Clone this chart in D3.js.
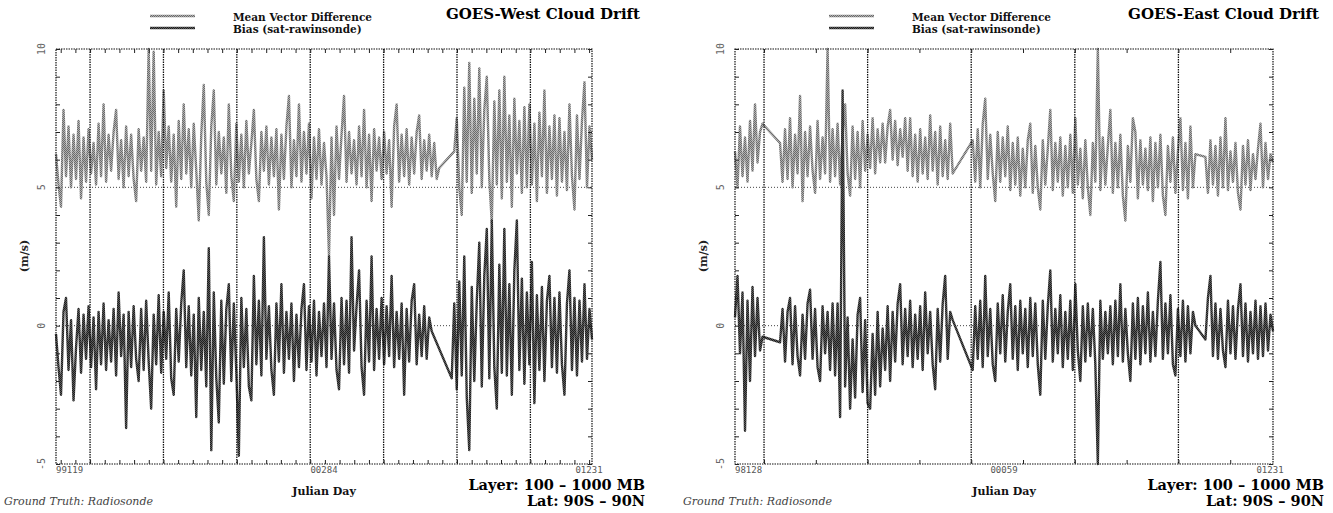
<!DOCTYPE html>
<html><head><meta charset="utf-8">
<script src="https://cdn.jsdelivr.net/npm/d3@7"></script>
<style>body{margin:0;background:#fff}svg{display:block}</style>
</head><body>
<svg id="c" width="1333" height="513"></svg>
<script>
// ---- data ----
const westMvd = [
 6.2,5.1,4.3,7.8,5.4,7.2,5.0,6.9,5.3,7.4,
 4.6,6.8,5.2,7.1,5.5,6.6,5.1,7.3,5.4,8.0,
 5.2,6.9,5.6,7.0,7.8,5.3,6.7,5.0,7.2,5.4,
 6.9,5.3,4.5,7.1,5.6,6.8,5.2,10.0,5.6,9.9,
 5.1,7.0,5.4,8.5,5.7,7.2,5.2,6.9,4.3,7.4,
 5.3,8.0,5.5,7.1,5.0,7.3,5.6,3.8,6.9,8.7,
 5.2,4.0,7.2,8.5,5.1,7.0,5.5,6.8,4.8,8.0,
 5.4,4.5,7.3,5.2,6.9,5.0,7.4,5.5,6.6,7.8,
 5.3,4.5,7.0,5.6,7.2,5.1,6.8,5.4,7.1,4.2,
 6.9,5.3,7.2,8.3,5.0,6.7,5.4,8.0,5.2,7.0,
 5.5,7.3,4.6,6.8,5.3,7.1,5.1,6.6,5.4,2.5,
 6.8,4.0,7.2,5.3,6.9,8.3,5.2,7.0,5.5,6.7,
 5.1,7.2,5.4,7.8,5.0,6.9,4.5,7.1,5.6,6.8,
 5.3,7.0,5.5,6.7,4.3,7.2,8.0,5.2,6.9,5.4,
 7.1,5.1,6.8,5.5,7.0,7.6,5.3,6.7,5.6,6.9,
 5.4,6.6,5.3,5.7,null,null,null,null,null,6.3,
 7.5,5.0,4.0,8.6,5.2,9.5,4.8,8.2,5.5,9.3,
 5.0,7.8,9.0,5.3,3.7,8.1,5.1,8.5,4.6,9.0,
 5.2,7.6,4.3,8.2,5.5,7.4,4.8,7.9,5.0,8.0,
 5.1,7.3,4.5,7.7,5.4,8.5,4.8,7.2,5.3,7.6,
 4.7,7.5,5.2,7.0,4.9,8.0,5.4,4.2,7.6,5.3,
 7.4,8.8,5.0,7.2,6.0
];
const westBias = [
 -0.3,-1.5,-2.5,0.5,1.0,-1.6,0.2,-2.7,-0.8,0.6,
 -1.7,0.4,-1.2,0.7,-1.5,0.3,-2.3,0.5,-1.4,0.8,
 -1.6,0.2,-1.3,0.6,-1.8,1.2,-1.1,0.4,-3.7,0.5,
 -1.5,0.7,-1.2,-2.0,0.6,-1.6,0.9,-1.3,-3.0,0.4,
 -1.4,1.1,-1.7,0.5,-1.2,1.2,-1.9,-2.5,0.6,-1.3,
 0.8,2.0,-1.5,0.7,-1.8,0.4,-3.3,1.0,-1.6,0.5,
 -2.2,2.8,-4.5,1.2,-1.9,-3.5,0.9,-2.1,0.6,1.5,
 -2.0,0.8,-1.7,-4.7,1.0,-1.5,0.6,-2.2,-2.7,1.8,
 -1.4,0.9,-1.8,3.2,-1.2,0.7,-1.6,-2.5,0.8,-1.3,
 1.5,-1.7,0.5,-1.2,0.8,-2.0,0.4,-1.5,0.6,1.5,
 -1.6,0.7,-1.3,0.9,-1.8,0.5,-1.1,0.8,-1.5,2.5,
 -1.2,0.8,-1.6,-2.3,1.0,-1.4,0.9,-1.7,3.2,-0.9,
 0.7,2.0,-1.5,-2.5,0.9,-1.3,2.5,-1.6,0.6,-1.2,
 1.0,-1.4,0.7,-1.1,1.8,-1.5,0.5,-1.2,0.8,-2.5,
 0.6,-1.3,0.9,1.5,-1.4,0.4,-1.1,0.7,-1.2,0.3,
 -0.2,null,null,null,null,null,null,null,-1.9,0.8,
 -2.3,1.6,-1.8,2.5,-2.6,-4.5,1.4,-2.0,0.9,3.0,
 -2.2,1.8,3.5,-1.9,3.8,-1.5,-3.0,2.2,-1.7,3.5,
 -1.8,1.5,-2.5,2.0,3.8,-1.6,1.7,-2.1,1.2,-1.4,
 2.3,-2.8,1.1,-1.6,1.4,-2.0,0.9,1.8,-1.5,1.0,
 -1.7,1.2,-1.4,-2.5,0.8,2.0,-1.6,1.0,-1.8,0.9,
 -1.3,1.5,-1.2,0.6,-0.5
];
const eastMvd = [
 6.3,5.0,7.2,5.4,6.8,5.2,7.4,5.6,8.0,5.9,
 7.0,7.3,null,null,null,null,null,null,6.6,5.2,
 7.1,5.3,7.5,5.0,6.9,5.5,8.3,4.5,7.0,5.4,
 7.2,5.6,4.8,7.4,5.3,6.8,5.5,10.0,5.2,7.1,
 5.4,7.3,5.1,6.9,8.0,5.5,4.7,7.2,5.3,7.0,
 5.0,7.4,5.6,6.9,5.7,7.5,5.5,7.1,5.9,7.3,
 5.9,7.2,7.8,6.0,7.4,5.8,7.1,6.1,7.5,5.6,
 7.5,5.4,6.9,5.2,7.1,5.5,6.8,5.3,7.6,5.6,
 7.0,5.1,7.2,5.4,6.7,5.3,7.3,5.5,null,null,
 null,null,null,null,null,6.7,5.2,7.1,5.0,7.3,
 8.2,5.3,6.9,5.5,4.5,7.0,5.2,6.8,5.4,7.2,
 4.9,6.6,5.1,6.8,4.7,6.4,5.0,6.7,7.3,4.8,
 6.5,5.0,4.2,6.7,5.1,6.4,7.8,4.9,6.6,5.2,
 6.8,4.7,6.5,5.0,6.9,4.8,7.5,5.1,6.4,4.6,
 6.7,5.0,4.0,6.6,5.2,10.0,4.9,6.8,5.1,6.5,
 7.8,4.8,6.6,5.0,6.9,4.7,3.8,6.5,5.2,7.5,
 7.0,4.6,6.7,5.1,6.4,4.9,6.8,4.5,6.6,5.0,
 6.9,4.7,4.0,6.5,5.2,6.8,4.8,6.3,7.5,4.9,
 6.6,4.6,7.2,5.0,6.2,null,null,null,6.1,4.8,
 6.7,5.1,6.5,4.7,6.8,5.0,7.5,4.9,6.3,5.2,
 6.6,4.8,4.2,6.5,5.1,6.7,4.9,6.2,5.3,6.4,
 7.3,5.0,6.6,5.3,6.2,5.9
];
const eastBias = [
 0.3,1.8,-1.0,1.2,-3.8,0.9,-2.0,1.4,-1.1,1.0,
 -0.9,-0.4,null,null,null,null,null,null,-0.6,0.6,
 -1.3,0.5,1.0,-1.4,0.7,-1.1,-1.8,0.4,-1.2,0.8,
 1.3,-1.2,0.6,-1.5,-2.0,0.7,-1.0,0.5,-1.6,0.8,
 -1.8,0.8,-3.3,8.5,-2.2,0.3,-3.0,-0.5,-2.6,0.4,
 1.0,-2.4,0.2,-2.8,-3.0,-0.3,-2.5,0.5,-2.2,-0.1,
 -1.6,0.7,-2.0,0.5,-1.3,0.8,1.5,-1.4,0.6,-1.1,
 0.9,-1.5,0.4,-1.2,0.7,-1.6,1.2,-1.0,0.5,-1.4,
 -2.3,0.6,-1.3,0.8,1.8,-1.2,0.5,0.2,null,null,
 null,null,null,null,null,-1.6,0.7,-1.2,0.9,-1.5,
 1.8,-1.1,0.6,-1.4,-2.0,0.8,-1.0,1.1,-1.3,0.5,
 1.5,-1.2,0.7,-1.6,0.9,-1.0,0.6,-1.5,1.0,-1.1,
 0.8,-1.4,-2.5,0.9,-1.2,0.7,2.0,-1.3,0.6,-1.0,
 1.1,-1.5,0.5,-1.2,0.9,-1.6,1.5,-0.9,-2.0,0.7,
 -1.3,0.8,-1.1,0.6,-1.4,-5.0,0.9,-1.2,0.5,-1.0,
 0.7,-1.4,0.9,-1.1,1.5,-1.3,0.6,-1.0,-2.0,0.8,
 -1.2,1.0,-1.4,0.7,-1.0,1.2,-1.3,0.5,-1.1,0.9,
 2.3,-1.2,0.8,-1.0,1.1,-1.4,-1.8,0.6,-1.1,0.9,
 -1.3,0.7,-1.0,0.5,0.0,null,null,null,-0.5,1.0,
 1.8,-1.1,0.8,-1.2,0.6,-0.9,-1.5,0.9,-1.0,0.7,
 -1.2,0.6,1.5,-1.1,0.8,-1.3,0.5,-1.0,0.9,-1.2,
 0.7,-1.1,0.8,-0.9,0.4,-0.2
];
const westDates = ["99119", "00284", "01231"];
const eastDates = ["98128", "00059", "01231"];
const westGrid = [13.6, 42.9, 72.2, 101.5, 130.8, 160.1, 189.4];
const eastGrid = [11.6, 53.0, 94.4, 135.8, 177.2];
const yTickLabels = [10, 5, 0, -5];
const refLevels = [5, 0];
const legendLabels = ["Mean Vector Difference", "Bias (sat-rawinsonde)"];
const titles = ["GOES-West Cloud Drift", "GOES-East Cloud Drift"];
const layerText = "Layer: 100 \u2013 1000 MB";
const latText = "Lat: 90S \u2013 90N";
const xTitle = "Julian Day";
const yTitle = "(m/s)";
const truthText = "Ground Truth: Radiosonde";

// ---- drawing ----
const svg = d3.select("#c");
svg.append("rect").attr("width",1333).attr("height",513).attr("fill","#fff");
const serif = "'DejaVu Serif', 'Liberation Serif', serif";

// halftone-like textures for the two series
const defs = svg.append("defs");
function checker(id, dark, light) {
  const p = defs.append("pattern").attr("id", id).attr("width", 2).attr("height", 2)
    .attr("patternUnits", "userSpaceOnUse");
  p.append("rect").attr("width", 2).attr("height", 2).attr("fill", light);
  p.append("rect").attr("width", 1).attr("height", 1).attr("fill", dark);
  p.append("rect").attr("x", 1).attr("y", 1).attr("width", 1).attr("height", 1).attr("fill", dark);
}
checker("texMvd", "#6a6a6a", "#b0b0b0");
checker("texBias", "#1e1e1e", "#5a5a5a");

const panels = [
  {title: titles[0], mvd: westMvd, bias: westBias, dates: westDates, grid: westGrid, minorDiv: 5, x0: 56, x1: 592, dx: 0},
  {title: titles[1], mvd: eastMvd, bias: eastBias, dates: eastDates, grid: eastGrid, minorDiv: 2, x0: 735, x1: 1273, dx: 679}
];

panels.forEach(p => {
  const g = svg.append("g");
  const N = p.mvd.length;
  const x = d3.scaleLinear().domain([0, N - 1]).range([p.x0, p.x1]);
  const y = d3.scaleLinear().domain([-5, 10]).range([464, 49]);

  // horizontal reference lines (under data)
  g.selectAll(".ref").data(refLevels).join("line")
    .attr("x1", p.x0).attr("x2", p.x1)
    .attr("y1", d => y(d)).attr("y2", d => y(d))
    .attr("stroke", "#444").attr("stroke-width", 1).attr("stroke-dasharray", "1,2");

  const line = d3.line().x(d => x(d.i)).y(d => y(d.v));
  const pts = arr => arr.map((v, i) => ({i, v})).filter(d => d.v !== null);

  g.append("path").datum(pts(p.mvd)).attr("d", line)
    .attr("fill", "none").attr("stroke", "url(#texMvd)").attr("stroke-width", 2.4).attr("stroke-linejoin", "round");
  g.append("path").datum(pts(p.bias)).attr("d", line)
    .attr("fill", "none").attr("stroke", "url(#texBias)").attr("stroke-width", 2.4).attr("stroke-linejoin", "round");

  // vertical grid lines
  g.selectAll(".grid").data(p.grid).join("line")
    .attr("x1", d => x(d)).attr("x2", d => x(d))
    .attr("y1", 49).attr("y2", 464)
    .attr("stroke", "#111").attr("stroke-width", 1.3).attr("stroke-dasharray", "1.5,1");

  // frame
  g.append("rect").attr("x", p.x0).attr("y", 49).attr("width", p.x1 - p.x0).attr("height", 415)
    .attr("fill", "none").attr("stroke", "#111").attr("stroke-width", 1.2).attr("stroke-dasharray", "1.5,1");

  // minor ticks via axes
  const step = p.grid[1] - p.grid[0];
  const minor = [];
  for (let t = p.grid[0] - step; t <= N - 1; t += step / p.minorDiv) if (t >= 0) minor.push(t);
  const axB = d3.axisBottom(x).tickValues(minor).tickSize(-4).tickFormat("");
  const axT = d3.axisTop(x).tickValues(minor).tickSize(-4).tickFormat("");
  const axL = d3.axisLeft(y).tickValues(d3.range(-5, 11)).tickSize(-4).tickFormat("");
  const axR = d3.axisRight(y).tickValues(d3.range(-5, 11)).tickSize(-4).tickFormat("");
  [[axB, `translate(0,464)`], [axT, `translate(0,49)`], [axL, `translate(${p.x0},0)`], [axR, `translate(${p.x1},0)`]].forEach(([ax, tr]) => {
    const a = g.append("g").attr("transform", tr).call(ax);
    a.select(".domain").remove();
    a.selectAll("line").attr("stroke", "#222").attr("stroke-width", 1);
  });

  // y tick labels (rotated)
  g.selectAll(".yl").data(yTickLabels).join("text")
    .attr("transform", d => `translate(${p.x0 - 11},${y(d)}) rotate(-90)`)
    .attr("text-anchor", "middle").attr("font-family", "'DejaVu Sans Mono', monospace")
    .attr("font-size", 10).attr("fill", "#666").text(d => d);

  // y title
  g.append("text").attr("transform", `translate(${p.x0 - 28},256) rotate(-90)`)
    .attr("text-anchor", "middle").attr("font-family", serif).attr("font-weight", "bold")
    .attr("font-size", 11).attr("fill", "#222").text(yTitle);

  // x date labels
  const xl = [[0, "start", p.x0], [(N - 1) / 2, "middle", null], [N - 1, "middle", p.x1 - 3]];
  xl.forEach(([v, anchor, px], k) => {
    g.append("text").attr("x", px !== null ? px : x(v)).attr("y", 473)
      .attr("text-anchor", anchor).attr("font-family", "'DejaVu Sans Mono', monospace")
      .attr("font-size", 9).attr("fill", "#555").text(p.dates[k]);
  });

  // legend
  const lx = 150 + p.dx;
  [["url(#texMvd)", 0], ["url(#texBias)", 1]].forEach(([c, k]) => {
    g.append("line").attr("x1", lx).attr("x2", lx + 45).attr("y1", 16 + 12 * k).attr("y2", 16 + 12 * k)
      .attr("stroke", c).attr("stroke-width", 2.4);
    g.append("text").attr("x", 233 + p.dx).attr("y", 21 + 12 * k)
      .attr("font-family", serif).attr("font-weight", "bold").attr("font-size", 10.5)
      .attr("fill", "#111").text(legendLabels[k]);
  });

  // title
  g.append("text").attr("x", 640 + p.dx).attr("y", 19).attr("text-anchor", "end")
    .attr("font-family", serif).attr("font-weight", "bold").attr("font-size", 15)
    .attr("fill", "#000").text(p.title);

  // bottom texts
  g.append("text").attr("x", 645 + p.dx).attr("y", 490).attr("text-anchor", "end")
    .attr("font-family", serif).attr("font-weight", "bold").attr("font-size", 14.5).attr("fill", "#000").text(layerText);
  g.append("text").attr("x", 645 + p.dx).attr("y", 506).attr("text-anchor", "end")
    .attr("font-family", serif).attr("font-weight", "bold").attr("font-size", 14.5).attr("fill", "#000").text(latText);
  g.append("text").attr("x", (p.x0 + p.x1) / 2).attr("y", 495).attr("text-anchor", "middle")
    .attr("font-family", serif).attr("font-weight", "bold").attr("font-size", 11).attr("fill", "#111").text(xTitle);
  g.append("text").attr("x", 4 + p.dx).attr("y", 505)
    .attr("font-family", serif).attr("font-style", "italic").attr("font-size", 11).attr("fill", "#444").text(truthText);
});
</script>
</body></html>
